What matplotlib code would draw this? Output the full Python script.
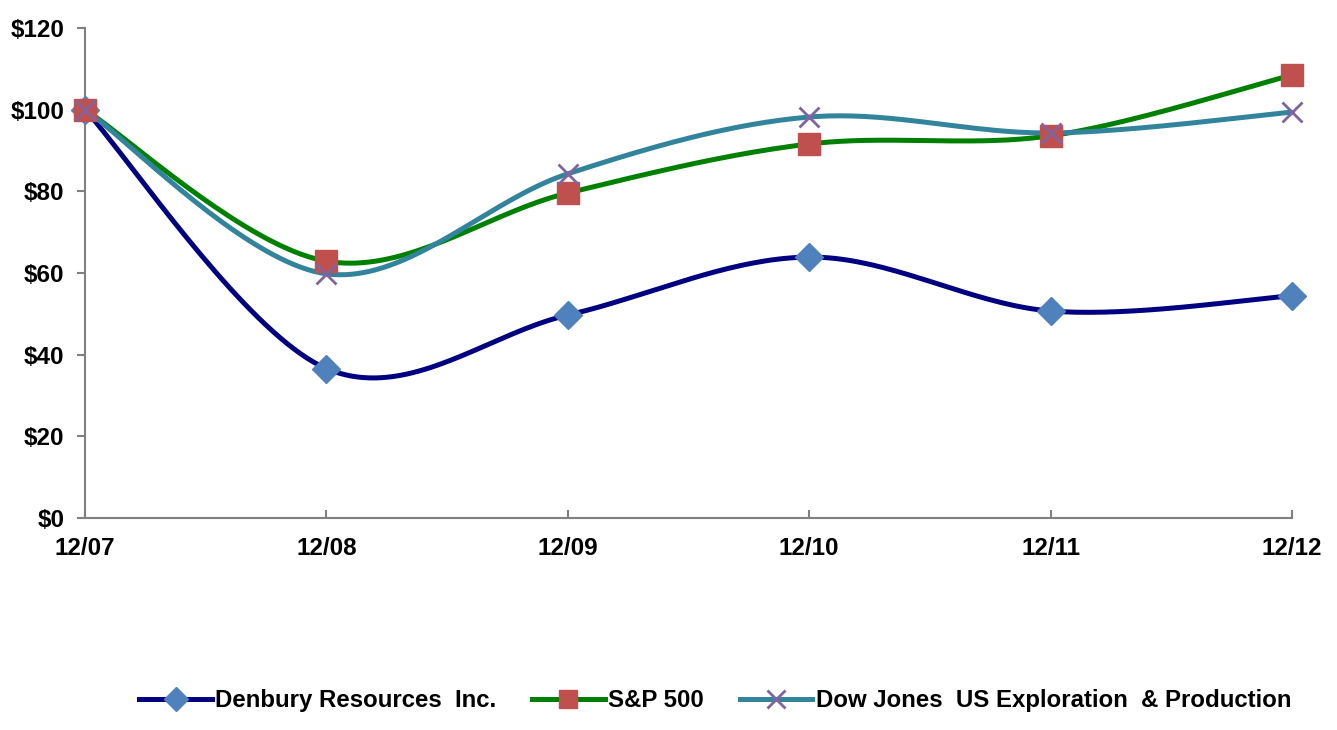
import numpy as np
import matplotlib
matplotlib.use('Agg')
import matplotlib.pyplot as plt
from matplotlib.lines import Line2D

plt.rcParams['font.family'] = ['Liberation Sans', 'DejaVu Sans']
plt.rcParams['font.weight'] = 'bold'

periods = ['12/07', '12/08', '12/09', '12/10', '12/11', '12/12']
denbury = [100, 36.6, 49.7, 63.9, 50.7, 54.4]
sp500 = [100, 62.9, 79.6, 91.6, 93.6, 108.5]
dj_ep = [100, 59.8, 84.3, 98.2, 94.3, 99.4]

series = [
    ('Denbury Resources  Inc.', denbury, '#000080', 'D', '#4F81BD', 14),
    ('S&P 500', sp500, '#008000', 's', '#C0504D', 16),
    ('Dow Jones  US Exploration  & Production', dj_ep, '#31849B', 'x', '#8064A2', 15),
]


def smooth(xs, ys, n=40):
    # Excel-style smoothed line: cubic Bezier between points
    p = np.column_stack([xs, ys]).astype(float)
    pts = np.vstack([p[0], p, p[-1]])
    out = []
    t = np.linspace(0, 1, n)[:, None]
    for i in range(1, len(pts) - 2):
        p0, p3 = pts[i], pts[i + 1]
        c1 = p0 + (pts[i + 1] - pts[i - 1]) / 6
        c2 = p3 - (pts[i + 2] - pts[i]) / 6
        seg = ((1 - t) ** 3) * p0 + 3 * ((1 - t) ** 2) * t * c1 + 3 * (1 - t) * t ** 2 * c2 + t ** 3 * p3
        out.append(seg if i == 1 else seg[1:])
    out = np.vstack(out)
    return out[:, 0], out[:, 1]


fig = plt.figure(figsize=(13.37, 7.30), dpi=100)
ax = fig.add_axes([0.0636, 0.2904, 0.9027, 0.6712])

x = np.arange(len(periods))
for name, vals, lc, mk, mc, ms in series:
    sx, sy = smooth(x, vals)
    ax.plot(sx, sy, color=lc, lw=3.6, zorder=2, solid_capstyle='round')
for name, vals, lc, mk, mc, ms in series:
    if mk == 'x':
        ax.plot(x, vals, ls='none', marker=mk, ms=ms, mec=mc, mew=2, zorder=3, clip_on=False)
    else:
        ax.plot(x, vals, ls='none', marker=mk, ms=ms, mfc=mc, mec=mc, zorder=3, clip_on=False)

ax.set_xlim(0, len(periods) - 1)
ax.set_ylim(0, 120)
ax.set_yticks(range(0, 121, 20))
ax.set_yticklabels([f'${v}' for v in range(0, 121, 20)])
ax.set_xticks(x)
ax.set_xticklabels(periods)

for s in ['top', 'right']:
    ax.spines[s].set_visible(False)
for s in ['left', 'bottom']:
    ax.spines[s].set_color('#808080')
    ax.spines[s].set_linewidth(1.5)
ax.tick_params(axis='y', direction='out', length=6, width=1.5, color='#808080',
               labelsize=17.5, pad=9)
ax.tick_params(axis='x', direction='in', length=6, width=1.5, color='#808080',
               labelsize=17.5, pad=14)
for lab in ax.get_xticklabels() + ax.get_yticklabels():
    lab.set_fontweight('bold')

handles = []
for name, vals, lc, mk, mc, ms in series:
    if mk == 'x':
        h = Line2D([], [], color=lc, lw=3.6, marker=mk, ms=ms * 0.85, mec=mc, mew=2)
    else:
        h = Line2D([], [], color=lc, lw=3.6, marker=mk, ms=ms * 0.85, mfc=mc, mec=mc)
    handles.append(h)
fig.legend(handles, [s[0] for s in series], loc='center', bbox_to_anchor=(0.535, 0.04),
           ncol=3, frameon=False, handlelength=3.0, columnspacing=1.5,
           handletextpad=0.15, prop={'weight': 'bold', 'size': 17.3})

fig.savefig('out.png', dpi=100)
